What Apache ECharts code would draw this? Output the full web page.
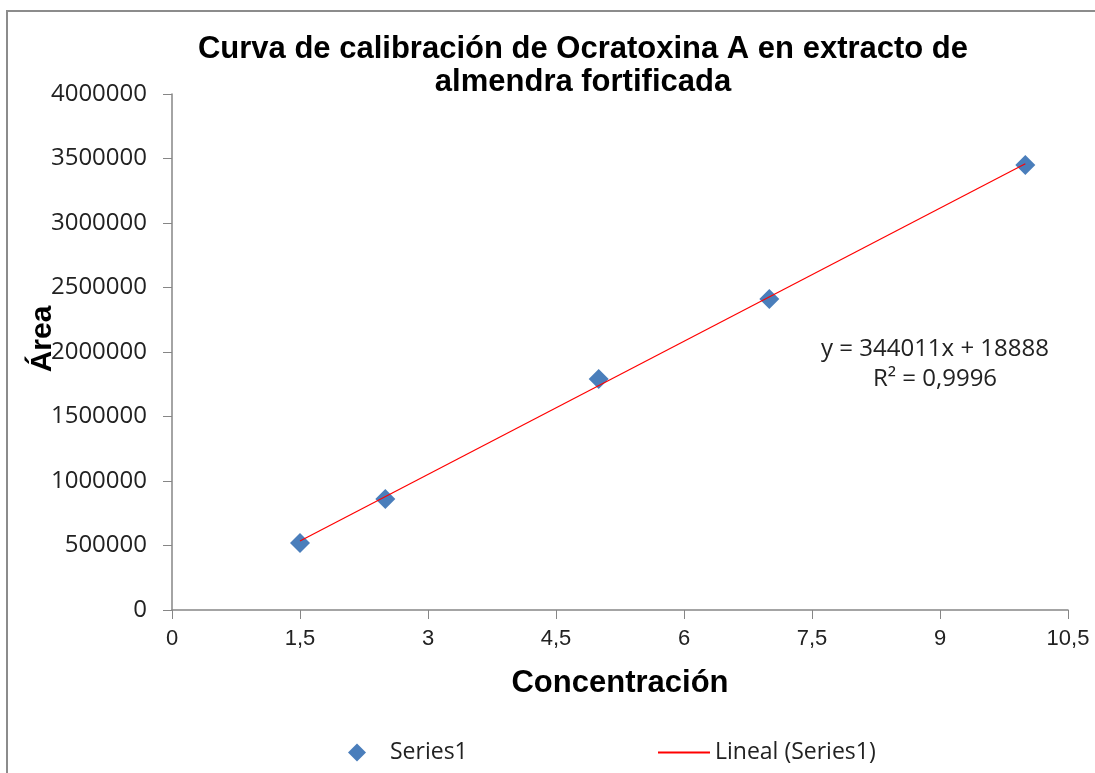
<!DOCTYPE html>
<html>
<head>
<meta charset="utf-8">
<script src="https://cdn.jsdelivr.net/npm/echarts@6/dist/echarts.min.js"></script>
<style>
  html, body { margin: 0; padding: 0; background: #fff; }
  #chart { width: 1095px; height: 773px; }
</style>
</head>
<body>
<div id="chart"></div>
<script>
// measured points
const concentrations = [1.5, 2.5, 5, 7, 10]
const areas = [519000, 860000, 1790000, 2410000, 3450000]
// Excel trendline ends (y = 344011x + 18888)
const trendX = [1.5, 10]
const trendY = [534905, 3458998]
const xTicks = ['0', '1,5', '3', '4,5', '6', '7,5', '9', '10,5']

const chart = echarts.init(document.getElementById('chart'))
const axisGray = '#868686'
const bodyFont = 'Open Sans'

chart.setOption({
  animation: false,
  title: {
    text: 'Curva de calibración de Ocratoxina A en extracto de\nalmendra fortificada',
    left: 578,
    top: 28,
    textAlign: 'center',
    textStyle: {
      fontFamily: 'Liberation Sans',
      fontWeight: 'bold',
      fontSize: 31,
      lineHeight: 33,
      color: '#000'
    }
  },
  graphic: [
    {
      type: 'rect',
      shape: { x: 7, y: 11, width: 1200, height: 900 },
      style: { fill: 'none', stroke: '#8c8c8c', lineWidth: 2 },
      silent: true
    },
    {
      // y axis title, drawn here so it may overlap the tick labels like the original
      type: 'text',
      x: 43,
      y: 339,
      rotation: Math.PI / 2,
      style: {
        text: 'Área',
        font: 'bold 30px "Liberation Sans"',
        textAlign: 'center',
        textVerticalAlign: 'middle',
        fill: '#000'
      },
      z: 10
    },
    {
      type: 'text',
      x: 935,
      y: 334,
      style: {
        text: 'y = 344011x + 18888\nR² = 0,9996',
        font: '24px "Open Sans"',
        textAlign: 'center',
        lineHeight: 30,
        fill: '#222'
      }
    }
  ],
  grid: { left: 172, right: 27, top: 94, bottom: 163 },
  legend: [
    {
      left: 343,
      top: 736,
      icon: 'diamond',
      itemWidth: 18,
      itemHeight: 18,
      data: ['Series1'],
      itemStyle: { opacity: 1 },
      textStyle: { fontFamily: bodyFont, fontSize: 23, color: '#222', padding: [0, 0, 0, 19] }
    },
    {
      left: 653,
      top: 736,
      itemWidth: 52,
      itemHeight: 2,
      data: [{ name: 'Lineal (Series1)', icon: 'rect' }],
      textStyle: { fontFamily: bodyFont, fontSize: 23, color: '#222' }
    }
  ],
  xAxis: {
    type: 'value',
    min: 0,
    max: 10.5,
    interval: 1.5,
    name: 'Concentración',
    nameLocation: 'middle',
    nameGap: 58,
    nameTextStyle: { fontFamily: 'Liberation Sans', fontWeight: 'bold', fontSize: 31, color: '#000' },
    axisLine: { lineStyle: { color: axisGray, width: 1.5 } },
    axisTick: { length: 9, lineStyle: { color: axisGray } },
    axisLabel: {
      margin: 18,
      fontFamily: 'Liberation Sans',
      fontSize: 22,
      color: '#222',
      formatter: v => xTicks[Math.round(v / 1.5)]
    },
    splitLine: { show: false }
  },
  yAxis: {
    type: 'value',
    min: 0,
    max: 4000000,
    interval: 500000,
    axisLine: { show: true, lineStyle: { color: axisGray, width: 1.5 } },
    axisTick: { show: true, length: 9, lineStyle: { color: axisGray } },
    axisLabel: {
      margin: 25,
      fontFamily: bodyFont,
      fontSize: 24,
      color: '#222',
      formatter: v => String(v)
    },
    splitLine: { show: false }
  },
  series: [
    {
      name: 'Lineal (Series1)',
      type: 'line',
      data: trendX.map((x, i) => [x, trendY[i]]),
      symbol: 'none',
      lineStyle: { color: '#ff0000', width: 1.2 },
      itemStyle: { color: '#ff0000' },
      z: 3
    },
    {
      name: 'Series1',
      type: 'scatter',
      data: concentrations.map((x, i) => [x, areas[i]]),
      symbol: 'diamond',
      symbolSize: 20,
      itemStyle: { color: '#4a7ebb', opacity: 1 },
      z: 2
    }
  ]
})

window.addEventListener('resize', () => chart.resize())
</script>
</body>
</html>
